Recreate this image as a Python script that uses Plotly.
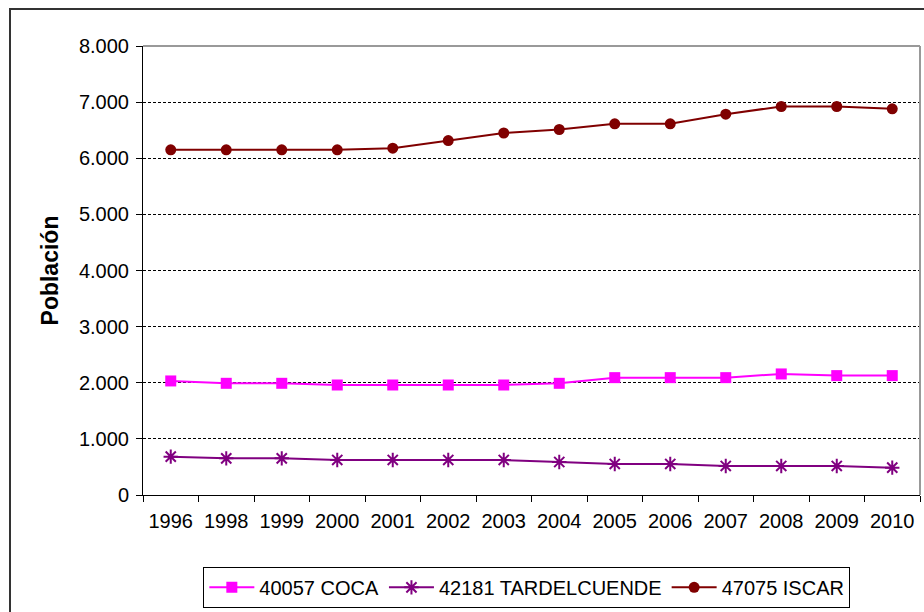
import plotly.graph_objects as go

years = ["1996", "1998", "1999", "2000", "2001", "2002", "2003", "2004",
         "2005", "2006", "2007", "2008", "2009", "2010"]
coca = [2032, 1990, 1990, 1960, 1960, 1960, 1960, 1990, 2091, 2091, 2091, 2157, 2127, 2127]
tardelcuende = [683, 653, 653, 624, 624, 624, 624, 588, 553, 553, 517, 517, 517, 487]
iscar = [6150, 6150, 6150, 6150, 6180, 6315, 6450, 6512, 6613, 6613, 6786, 6922, 6922, 6880]
y_ticks = [0, 1000, 2000, 3000, 4000, 5000, 6000, 7000, 8000]

fig = go.Figure()
fig.add_trace(go.Scatter(x=years, y=coca, name="40057 COCA", mode="lines+markers",
                         line=dict(color="#FF00FF", width=2),
                         marker=dict(symbol="square", size=11, color="#FF00FF")))
fig.add_trace(go.Scatter(x=years, y=tardelcuende, name="42181 TARDELCUENDE", mode="lines+markers",
                         line=dict(color="#800080", width=2),
                         marker=dict(symbol="asterisk-open", size=12,
                                     line=dict(color="#800080", width=2))))
fig.add_trace(go.Scatter(x=years, y=iscar, name="47075 ISCAR", mode="lines+markers",
                         line=dict(color="#800000", width=2),
                         marker=dict(symbol="circle", size=11, color="#800000")))

fig.update_layout(
    width=924, height=612,
    margin=dict(l=143, r=4, t=46, b=117),
    paper_bgcolor="white", plot_bgcolor="white",
    separators=",.",
    font=dict(family="Liberation Sans, Arial, sans-serif", size=20, color="black"),
    showlegend=True,
    legend=dict(orientation="h", x=0.494, xanchor="center", y=-0.16, yanchor="top",
                bordercolor="black", borderwidth=1, font=dict(size=20),
                itemwidth=45, tracegroupgap=0),
    xaxis=dict(type="category", range=[-0.5, 13.5], tickson="boundaries",
               ticks="outside", ticklen=6,
               tickcolor="black", showline=True, linecolor="black", linewidth=1,
               showgrid=False, tickfont=dict(size=20), ticklabelstandoff=8,
               fixedrange=True),
    yaxis=dict(range=[0, 8000], tickvals=y_ticks, tickformat=",d", ticks="outside",
               ticklen=6, tickcolor="black", showline=True, linecolor="black",
               linewidth=1, showgrid=True, gridcolor="black", gridwidth=1,
               griddash="3px,2px", zeroline=False, tickfont=dict(size=20),
               ticklabelstandoff=3,
               title=dict(text="<b>Población</b>", font=dict(size=23), standoff=13)),
    shapes=[
        dict(type="line", xref="paper", yref="paper", x0=0, x1=1, y0=1, y1=1,
             line=dict(color="#999999", width=2)),
        dict(type="line", xref="paper", yref="paper", x0=1, x1=1, y0=0, y1=1,
             line=dict(color="#999999", width=2)),
        dict(type="rect", xref="paper", yref="paper",
             x0=(10 - 143) / 777, x1=1.05, y0=-0.3, y1=(495 - 9) / 449,
             line=dict(color="#333333", width=2), layer="below"),
    ],
)

fig.write_html("out.html", config={"displayModeBar": False},
               post_script="document.body.style.margin='0';")
